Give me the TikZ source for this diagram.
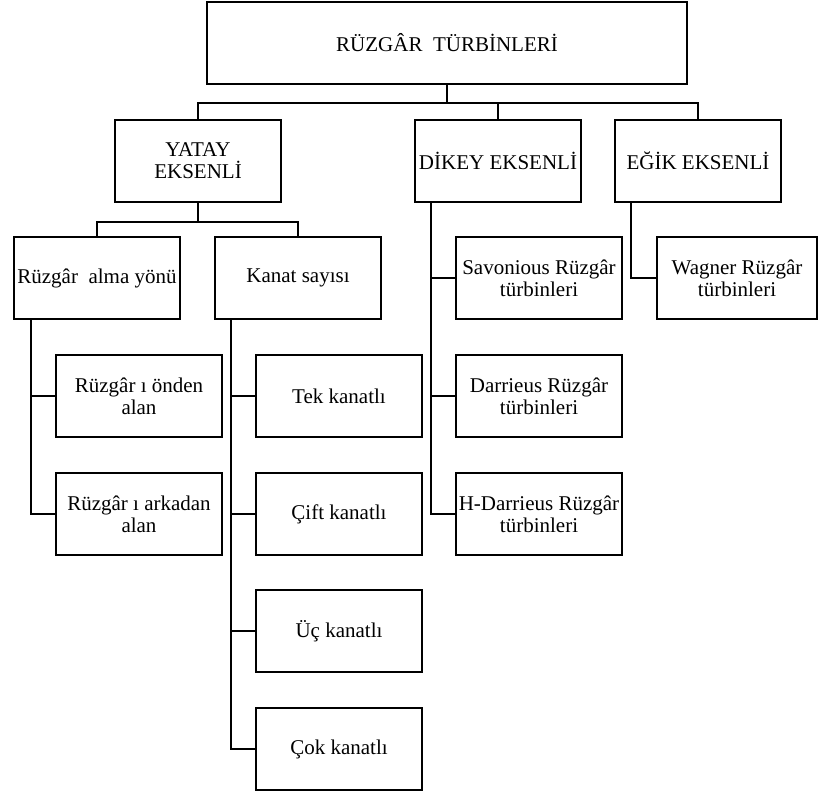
\documentclass[tikz,border=0pt]{standalone}
\usepackage{fontspec}
\setmainfont{Liberation Serif}

\begin{document}
\begin{tikzpicture}[x=1pt,y=-1pt,
        kutu/.style={draw, line width=2.2pt, minimum width=166pt, minimum height=82pt,
            align=center, inner sep=1pt, font=\fontsize{21}{22}\selectfont},
        hat/.style={line width=2.2pt}]
        \useasboundingbox (0,0) rectangle (818,793);

        % ana kutu ve ilk seviye
        \node[kutu, minimum width=480pt] (turbin) at (447,43) {RÜZGÂR~ TÜRBİNLERİ};
        \node[kutu] (yatay) at (198,161) {YATAY\\EKSENLİ};
        \node[kutu] (dikey) at (498,161) {DİKEY EKSENLİ};
        \node[kutu] (egik) at (698,161) {EĞİK EKSENLİ};

        % yatay eksenli alt dallar
        \node[kutu] (ryon) at (97,278) {Rüzgâr~ alma yönü};
        \node[kutu] (kanat) at (298,278) {Kanat sayısı};
        \node[kutu] (onden) at (139,396) {Rüzgâr ı önden\\alan};
        \node[kutu] (arkadan) at (139,514) {Rüzgâr ı arkadan\\alan};
        \node[kutu] (tek) at (339,396) {Tek kanatlı};
        \node[kutu] (cift) at (339,514) {Çift kanatlı};
        \node[kutu] (uc) at (339,631) {Üç kanatlı};
        \node[kutu] (cok) at (339,749) {Çok kanatlı};

        % dikey ve egik eksenli
        \node[kutu] (savon) at (539,278) {Savonious Rüzgâr\\türbinleri};
        \node[kutu] (darrieus) at (539,396) {Darrieus Rüzgâr\\türbinleri};
        \node[kutu] (hdarr) at (539,514) {H-Darrieus Rüzgâr\\türbinleri};
        \node[kutu, minimum width=160pt] (wagner) at (737,278) {Wagner Rüzgâr\\türbinleri};

        % baglantilar
        \coordinate (bus) at (447,103);
        \draw[hat] (turbin.south) -- (turbin.south |- bus);
        \draw[hat] (yatay.north) |- (egik.north |- bus) -- (egik.north);
        \draw[hat] (dikey.north) -- (dikey.north |- bus);

        \coordinate (ybus) at (198,222);
        \draw[hat] (yatay.south) -- (yatay.south |- ybus);
        \draw[hat] (ryon.north) |- (kanat.north |- ybus) -- (kanat.north);

        \foreach \c in {onden,arkadan}
            \draw[hat] ([xshift=18pt]ryon.south west) |- (\c.west);
        \foreach \c in {tek,cift,uc,cok}
            \draw[hat] ([xshift=17pt]kanat.south west) |- (\c.west);
        \foreach \c in {savon,darrieus,hdarr}
            \draw[hat] ([xshift=17pt]dikey.south west) |- (\c.west);
        \draw[hat] ([xshift=17pt]egik.south west) |- (wagner.west);
\end{tikzpicture}
\end{document}
